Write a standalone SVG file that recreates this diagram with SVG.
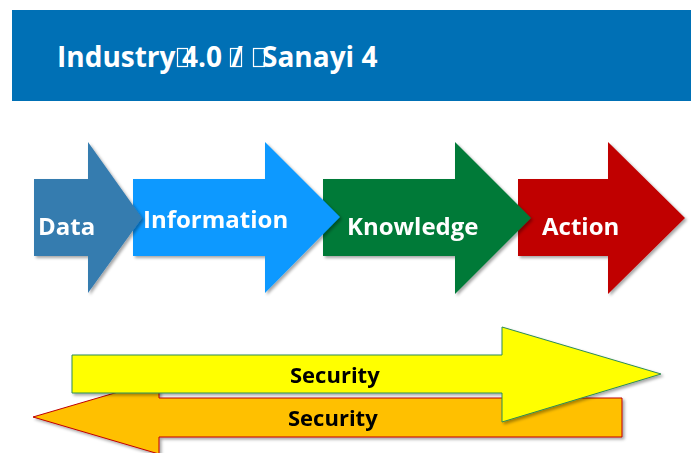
<svg xmlns="http://www.w3.org/2000/svg" width="691" height="453" viewBox="0 0 691 453">
<defs>
<filter id="sh" x="-10%" y="-10%" width="130%" height="130%">
<feDropShadow dx="2" dy="2" stdDeviation="1.5" flood-color="#000" flood-opacity="0.35"/>
</filter>
<style>
.lbl{font-family:"Open Sans","Liberation Sans",sans-serif;font-weight:bold;font-size:24px;fill:#fff}
.sec{font-family:"Open Sans","Liberation Sans",sans-serif;font-weight:bold;font-size:22px;fill:#000}
.title{font-family:"Open Sans","Liberation Sans",sans-serif;font-weight:bold;font-size:28px;fill:#fff}
.tofu{fill:none;stroke:#fff;stroke-width:1.2}
</style>
</defs>
<rect width="691" height="453" fill="#fff"/>
<g id="header">
<rect x="12" y="10" width="679" height="91" fill="#0070B5"/>
<text class="title" y="67"><tspan x="57">Industry</tspan><tspan x="182">4.0</tspan><tspan x="231">/</tspan><tspan x="262">Sanayi 4</tspan></text>
<rect class="tofu" x="177.5" y="48.5" width="10" height="18"/>
<rect class="tofu" x="230.5" y="48.5" width="11" height="18"/>
<rect class="tofu" x="253.5" y="48.5" width="11" height="18"/>
</g>
<g id="action" filter="url(#sh)">
<polygon points="518,179 608,179 608,142 685,218 608,294 608,256 518,256" fill="#C00000"/>
<text class="lbl" x="542" y="235">Action</text>
</g>
<g id="knowledge" filter="url(#sh)">
<polygon points="323,179 455,179 455,142 531,218 455,294 455,256 323,256" fill="#007A37"/>
<text class="lbl" x="347" y="235">Knowledge</text>
</g>
<g id="information" filter="url(#sh)">
<polygon points="133,179 265,179 265,142 340,217 265,293 265,256 133,256" fill="#0A99FF"/>
<text class="lbl" x="143" y="228">Information</text>
</g>
<g id="data" filter="url(#sh)">
<polygon points="34,179 88,179 88,142 142,218 88,293 88,256 34,256" fill="#357BAF"/>
<text class="lbl" x="38" y="235">Data</text>
</g>
<g id="security-left" filter="url(#sh)">
<polygon points="622,398 622,437 159,437 159,454 33,417 159,380 159,398" fill="#FFC000" stroke="#C00000" stroke-width="1"/>
<text class="sec" x="288" y="426">Security</text>
</g>
<g id="security-right" filter="url(#sh)">
<polygon points="72,355 502,355 502,327 661,374 502,422 502,393 72,393" fill="#FFFF00" stroke="#2E8B57" stroke-width="1"/>
<text class="sec" x="290" y="383">Security</text>
</g>
</svg>
